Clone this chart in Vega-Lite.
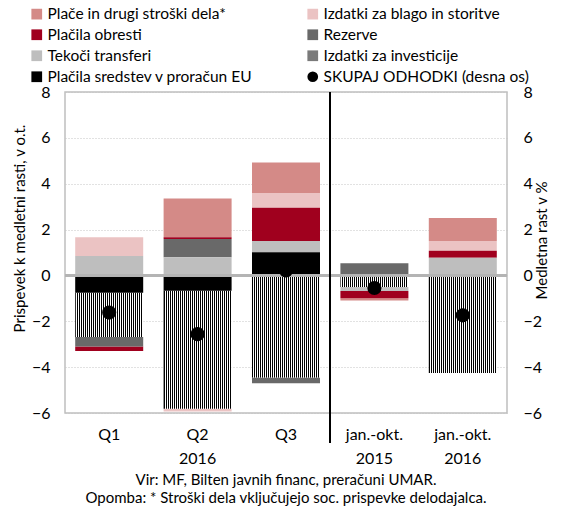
{
  "$schema": "https://vega.github.io/schema/vega-lite/v6.json",
  "width": 442,
  "height": 321,
  "autosize": {"type": "none"},
  "padding": {"left": 65, "top": 92, "right": 54, "bottom": 94},
  "config": {
    "font": "Lato",
    "view": {"stroke": "#bfbfbf", "strokeWidth": 1.5},
    "axis": {
      "labelFont": "Lato", "titleFont": "Lato", "labelFontSize": 16, "titleFontSize": 15,
      "labelColor": "#000", "titleColor": "#000", "titleFontWeight": "normal",
      "ticks": false, "domain": false, "grid": false
    },
    "legend": {
      "orient": "none", "legendX": -36, "legendY": -86, "columns": 2, "padding": 0,
      "labelFont": "Lato", "labelFontSize": 15.5, "labelColor": "#000", "labelOffset": 3,
      "symbolSize": 115, "symbolType": "square", "symbolStrokeWidth": 0,
      "rowPadding": 4, "columnPadding": 52, "labelLimit": 400
    },
    "title": {"font": "Lato", "fontSize": 15, "fontWeight": "normal", "color": "#000", "subtitleFont": "Lato", "subtitleFontSize": 15, "subtitleColor": "#000"}
  },
  "title": {
    "text": "Vir: MF, Bilten javnih financ, preračuni UMAR.\u00a0\u00a0\u00a0\u00a0\u00a0\u00a0\u00a0\u00a0\u00a0",
    "subtitle": "\u00a0\u00a0\u00a0\u00a0\u00a0\u00a0\u00a0\u00a0Opomba: * Stroški dela vključujejo soc. prispevke delodajalca.",
    "subtitlePadding": 3,
    "orient": "bottom", "anchor": "middle", "offset": 7, "frame": "group"
  },
  "data": {
    "values": [
      {"k": "Q1", "s": "Izdatki za blago in storitve", "v": 0.82, "r": 6},
      {"k": "Q1", "s": "Plačila obresti", "v": -0.2, "r": 5},
      {"k": "Q1", "s": "Rezerve", "v": -0.41, "r": 4},
      {"k": "Q1", "s": "Tekoči transferi", "v": 0.85, "r": 3},
      {"k": "Q1", "s": "Izdatki za investicije", "v": -1.94, "r": 2},
      {"k": "Q1", "s": "Plačila sredstev v proračun EU", "v": -0.75, "r": 1},
      {"k": "Q1", "s": "SKUPAJ ODHODKI (desna os)", "v": -1.62, "r": 8},
      {"k": "Q2|2016", "s": "Plače in drugi stroški dela*", "v": 1.69, "r": 7},
      {"k": "Q2|2016", "s": "Izdatki za blago in storitve", "v": -0.13, "r": 6},
      {"k": "Q2|2016", "s": "Plačila obresti", "v": 0.08, "r": 5},
      {"k": "Q2|2016", "s": "Rezerve", "v": 0.8, "r": 4},
      {"k": "Q2|2016", "s": "Tekoči transferi", "v": 0.79, "r": 3},
      {"k": "Q2|2016", "s": "Izdatki za investicije", "v": -5.14, "r": 2},
      {"k": "Q2|2016", "s": "Plačila sredstev v proračun EU", "v": -0.67, "r": 1},
      {"k": "Q2|2016", "s": "SKUPAJ ODHODKI (desna os)", "v": -2.56, "r": 8},
      {"k": "Q3", "s": "Plače in drugi stroški dela*", "v": 1.33, "r": 7},
      {"k": "Q3", "s": "Izdatki za blago in storitve", "v": 0.64, "r": 6},
      {"k": "Q3", "s": "Plačila obresti", "v": 1.45, "r": 5},
      {"k": "Q3", "s": "Rezerve", "v": -0.25, "r": 4},
      {"k": "Q3", "s": "Tekoči transferi", "v": 0.49, "r": 3},
      {"k": "Q3", "s": "Izdatki za investicije", "v": -4.45, "r": 2},
      {"k": "Q3", "s": "Plačila sredstev v proračun EU", "v": 1.01, "r": 1},
      {"k": "Q3", "s": "SKUPAJ ODHODKI (desna os)", "v": 0.22, "r": 8},
      {"k": "jan.-okt.|2015", "s": "Plače in drugi stroški dela*", "v": -0.1, "r": 7},
      {"k": "jan.-okt.|2015", "s": "Plačila obresti", "v": -0.31, "r": 5},
      {"k": "jan.-okt.|2015", "s": "Rezerve", "v": 0.53, "r": 4},
      {"k": "jan.-okt.|2015", "s": "Tekoči transferi", "v": -0.18, "r": 3},
      {"k": "jan.-okt.|2015", "s": "Izdatki za investicije", "v": -0.5, "r": 2},
      {"k": "jan.-okt.|2015", "s": "SKUPAJ ODHODKI (desna os)", "v": -0.55, "r": 8},
      {"k": "jan.-okt.|2016", "s": "Plače in drugi stroški dela*", "v": 1.0, "r": 7},
      {"k": "jan.-okt.|2016", "s": "Izdatki za blago in storitve", "v": 0.42, "r": 6},
      {"k": "jan.-okt.|2016", "s": "Plačila obresti", "v": 0.31, "r": 5},
      {"k": "jan.-okt.|2016", "s": "Tekoči transferi", "v": 0.77, "r": 3},
      {"k": "jan.-okt.|2016", "s": "Izdatki za investicije", "v": -4.25, "r": 2},
      {"k": "jan.-okt.|2016", "s": "SKUPAJ ODHODKI (desna os)", "v": -1.74, "r": 8}
    ]
  },
  "layer": [
    {
      "transform": [{"filter": "datum.s !== 'SKUPAJ ODHODKI (desna os)'"}],
      "mark": {"type": "bar", "width": 68},
      "encoding": {
        "x": {
          "field": "k", "type": "nominal",
          "scale": {"domain": ["Q1", "Q2|2016", "Q3", "jan.-okt.|2015", "jan.-okt.|2016"], "paddingInner": 0, "paddingOuter": 0},
          "axis": {"title": null, "labelAngle": 0, "labelPadding": 13, "labelLineHeight": 24, "labelExpr": "split(datum.label, '|')"}
        },
        "y": {
          "field": "v", "type": "quantitative", "stack": "zero",
          "scale": {"domain": [-6, 8], "nice": false, "zero": false},
          "axis": {
            "orient": "left", "title": "Prispevek k medletni rasti, v o.t.", "values": [-6, -4, -2, 0, 2, 4, 6, 8],
            "labelPadding": 15, "titlePadding": 4, "titleY": 136,
            "grid": true, "gridDash": [1, 2], "gridColor": "#c4c4c4", "gridWidth": 1
          }
        },
        "color": {
          "condition": {
            "test": "datum.s === 'Izdatki za investicije'",
            "value": {"gradient": "linear", "x1": 0, "y1": 0, "x2": 1, "y2": 0, "stops": [
                {"offset": 0, "color": "#000"}, {"offset": 0.016, "color": "#000"}, {"offset": 0.016, "color": "#fff"}, {"offset": 0.02941, "color": "#fff"},
                {"offset": 0.02941, "color": "#000"}, {"offset": 0.04541, "color": "#000"}, {"offset": 0.04541, "color": "#fff"}, {"offset": 0.05882, "color": "#fff"},
                {"offset": 0.05882, "color": "#000"}, {"offset": 0.07482, "color": "#000"}, {"offset": 0.07482, "color": "#fff"}, {"offset": 0.08824, "color": "#fff"},
                {"offset": 0.08824, "color": "#000"}, {"offset": 0.10424, "color": "#000"}, {"offset": 0.10424, "color": "#fff"}, {"offset": 0.11765, "color": "#fff"},
                {"offset": 0.11765, "color": "#000"}, {"offset": 0.13365, "color": "#000"}, {"offset": 0.13365, "color": "#fff"}, {"offset": 0.14706, "color": "#fff"},
                {"offset": 0.14706, "color": "#000"}, {"offset": 0.16306, "color": "#000"}, {"offset": 0.16306, "color": "#fff"}, {"offset": 0.17647, "color": "#fff"},
                {"offset": 0.17647, "color": "#000"}, {"offset": 0.19247, "color": "#000"}, {"offset": 0.19247, "color": "#fff"}, {"offset": 0.20588, "color": "#fff"},
                {"offset": 0.20588, "color": "#000"}, {"offset": 0.22188, "color": "#000"}, {"offset": 0.22188, "color": "#fff"}, {"offset": 0.23529, "color": "#fff"},
                {"offset": 0.23529, "color": "#000"}, {"offset": 0.25129, "color": "#000"}, {"offset": 0.25129, "color": "#fff"}, {"offset": 0.26471, "color": "#fff"},
                {"offset": 0.26471, "color": "#000"}, {"offset": 0.28071, "color": "#000"}, {"offset": 0.28071, "color": "#fff"}, {"offset": 0.29412, "color": "#fff"},
                {"offset": 0.29412, "color": "#000"}, {"offset": 0.31012, "color": "#000"}, {"offset": 0.31012, "color": "#fff"}, {"offset": 0.32353, "color": "#fff"},
                {"offset": 0.32353, "color": "#000"}, {"offset": 0.33953, "color": "#000"}, {"offset": 0.33953, "color": "#fff"}, {"offset": 0.35294, "color": "#fff"},
                {"offset": 0.35294, "color": "#000"}, {"offset": 0.36894, "color": "#000"}, {"offset": 0.36894, "color": "#fff"}, {"offset": 0.38235, "color": "#fff"},
                {"offset": 0.38235, "color": "#000"}, {"offset": 0.39835, "color": "#000"}, {"offset": 0.39835, "color": "#fff"}, {"offset": 0.41176, "color": "#fff"},
                {"offset": 0.41176, "color": "#000"}, {"offset": 0.42776, "color": "#000"}, {"offset": 0.42776, "color": "#fff"}, {"offset": 0.44118, "color": "#fff"},
                {"offset": 0.44118, "color": "#000"}, {"offset": 0.45718, "color": "#000"}, {"offset": 0.45718, "color": "#fff"}, {"offset": 0.47059, "color": "#fff"},
                {"offset": 0.47059, "color": "#000"}, {"offset": 0.48659, "color": "#000"}, {"offset": 0.48659, "color": "#fff"}, {"offset": 0.5, "color": "#fff"},
                {"offset": 0.5, "color": "#000"}, {"offset": 0.516, "color": "#000"}, {"offset": 0.516, "color": "#fff"}, {"offset": 0.52941, "color": "#fff"},
                {"offset": 0.52941, "color": "#000"}, {"offset": 0.54541, "color": "#000"}, {"offset": 0.54541, "color": "#fff"}, {"offset": 0.55882, "color": "#fff"},
                {"offset": 0.55882, "color": "#000"}, {"offset": 0.57482, "color": "#000"}, {"offset": 0.57482, "color": "#fff"}, {"offset": 0.58824, "color": "#fff"},
                {"offset": 0.58824, "color": "#000"}, {"offset": 0.60424, "color": "#000"}, {"offset": 0.60424, "color": "#fff"}, {"offset": 0.61765, "color": "#fff"},
                {"offset": 0.61765, "color": "#000"}, {"offset": 0.63365, "color": "#000"}, {"offset": 0.63365, "color": "#fff"}, {"offset": 0.64706, "color": "#fff"},
                {"offset": 0.64706, "color": "#000"}, {"offset": 0.66306, "color": "#000"}, {"offset": 0.66306, "color": "#fff"}, {"offset": 0.67647, "color": "#fff"},
                {"offset": 0.67647, "color": "#000"}, {"offset": 0.69247, "color": "#000"}, {"offset": 0.69247, "color": "#fff"}, {"offset": 0.70588, "color": "#fff"},
                {"offset": 0.70588, "color": "#000"}, {"offset": 0.72188, "color": "#000"}, {"offset": 0.72188, "color": "#fff"}, {"offset": 0.73529, "color": "#fff"},
                {"offset": 0.73529, "color": "#000"}, {"offset": 0.75129, "color": "#000"}, {"offset": 0.75129, "color": "#fff"}, {"offset": 0.76471, "color": "#fff"},
                {"offset": 0.76471, "color": "#000"}, {"offset": 0.78071, "color": "#000"}, {"offset": 0.78071, "color": "#fff"}, {"offset": 0.79412, "color": "#fff"},
                {"offset": 0.79412, "color": "#000"}, {"offset": 0.81012, "color": "#000"}, {"offset": 0.81012, "color": "#fff"}, {"offset": 0.82353, "color": "#fff"},
                {"offset": 0.82353, "color": "#000"}, {"offset": 0.83953, "color": "#000"}, {"offset": 0.83953, "color": "#fff"}, {"offset": 0.85294, "color": "#fff"},
                {"offset": 0.85294, "color": "#000"}, {"offset": 0.86894, "color": "#000"}, {"offset": 0.86894, "color": "#fff"}, {"offset": 0.88235, "color": "#fff"},
                {"offset": 0.88235, "color": "#000"}, {"offset": 0.89835, "color": "#000"}, {"offset": 0.89835, "color": "#fff"}, {"offset": 0.91176, "color": "#fff"},
                {"offset": 0.91176, "color": "#000"}, {"offset": 0.92776, "color": "#000"}, {"offset": 0.92776, "color": "#fff"}, {"offset": 0.94118, "color": "#fff"},
                {"offset": 0.94118, "color": "#000"}, {"offset": 0.95718, "color": "#000"}, {"offset": 0.95718, "color": "#fff"}, {"offset": 0.97059, "color": "#fff"},
                {"offset": 0.97059, "color": "#000"}, {"offset": 0.98659, "color": "#000"}, {"offset": 0.98659, "color": "#fff"}, {"offset": 1, "color": "#fff"}
              ]}
          },
          "field": "s", "type": "nominal",
          "scale": {
            "domain": ["Plače in drugi stroški dela*", "Plačila obresti", "Tekoči transferi", "Plačila sredstev v proračun EU", "Izdatki za blago in storitve", "Rezerve", "Izdatki za investicije", "SKUPAJ ODHODKI (desna os)"],
            "range": ["#d48a87", "#a0001e", "#bebebe", "#000000", "#ebc3c3", "#696969", "#7a7a7a", "#000000"]
          },
          "legend": {
            "title": null,
            "encode": {"symbols": {"update": {
              "shape": {"signal": "datum.value === 'SKUPAJ ODHODKI (desna os)' ? 'circle' : 'square'"}
            }}}
          }
        },
        "order": {"field": "r", "type": "quantitative"}
      }
    },
    {
      "mark": {"type": "rule", "color": "#b4b4b4", "strokeWidth": 2},
      "encoding": {
        "y": {"datum": 0, "type": "quantitative", "scale": {"domain": [-6, 8], "nice": false, "zero": false}, "axis": null}
      }
    },
    {
      "mark": {"type": "rule", "color": "#000", "strokeWidth": 1.5},
      "encoding": {
        "x": {"datum": "jan.-okt.|2015", "type": "nominal", "bandPosition": 0},
        "y": {"datum": 8, "type": "quantitative", "scale": {"domain": [-6, 8], "nice": false, "zero": false}, "axis": null},
        "y2": {"datum": -7.3}
      }
    },
    {
      "transform": [{"filter": "datum.s === 'SKUPAJ ODHODKI (desna os)'"}],
      "mark": {"type": "point", "filled": true, "shape": "circle", "size": 200, "opacity": 1},
      "encoding": {
        "x": {"field": "k", "type": "nominal"},
        "y": {
          "field": "v", "type": "quantitative",
          "scale": {"domain": [-6, 8], "nice": false, "zero": false},
          "axis": {"orient": "right", "title": "Medletna rast v %", "values": [-6, -4, -2, 0, 2, 4, 6, 8], "labelPadding": 16, "titlePadding": 8, "titleAngle": 270, "titleY": 148}
        },
        "color": {"field": "s", "type": "nominal"}
      }
    }
  ],
  "resolve": {"scale": {"y": "independent"}}
}
